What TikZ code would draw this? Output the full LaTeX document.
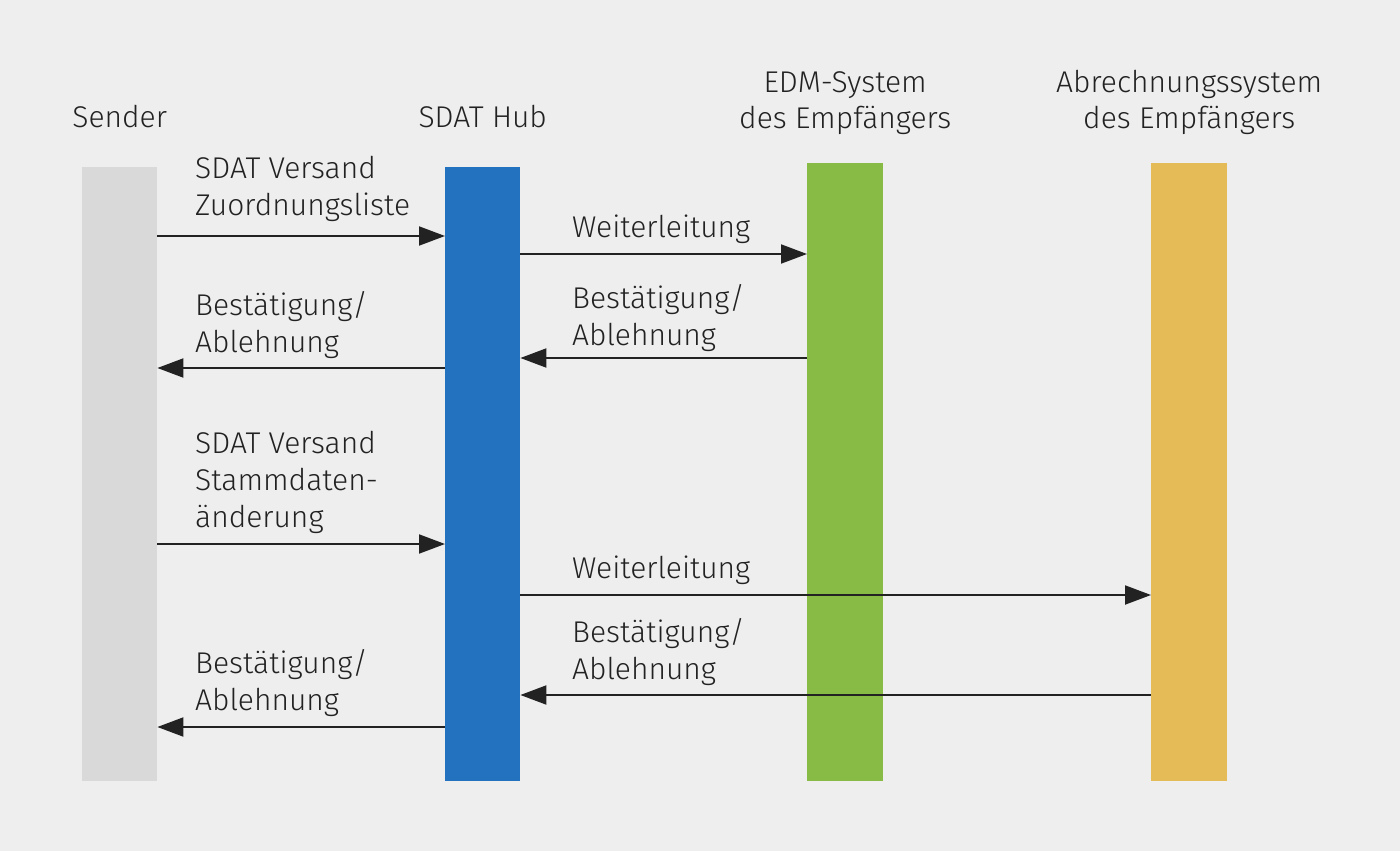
\documentclass[tikz,border=0pt]{standalone}
\usepackage{fontspec}
\setmainfont{Fira Sans}[UprightFont=* Light]
\usepackage{xcolor}
\usetikzlibrary{arrows.meta,positioning}
\definecolor{bg}{HTML}{EEEEEE}
\definecolor{ink}{HTML}{222222}
\definecolor{grey}{HTML}{D9D9D9}
\definecolor{hub}{HTML}{2372BF}
\definecolor{edm}{HTML}{88BB45}
\definecolor{abr}{HTML}{E5BB58}
\tikzset{
  bar/.style={draw=none, inner sep=0pt, minimum width=75pt, anchor=north west},
  msg/.style={draw=ink, line width=2pt, -{Triangle[length=26pt, width=19pt]}},
  lab/.style={text=ink, inner sep=0pt, align=left, anchor=south west, font=\fontsize{30}{37}\selectfont},
  head/.style={text=ink, inner sep=0pt, align=center, anchor=south, font=\fontsize{30}{36}\selectfont},
}
\begin{document}
\begin{tikzpicture}[x=1pt, y=-1pt]
  \fill[bg] (0,0) rectangle (1400,851);
  \useasboundingbox (0,0) rectangle (1400,851);
  % lifelines
  \node[bar, fill=grey, minimum height=614pt] (sender) at (82,167) {};
  \node[bar, fill=hub, minimum height=614pt] (sdat) at (445,167) {};
  \node[bar, fill=edm, minimum height=618pt, minimum width=76pt] (edm) at (807,163) {};
  \node[bar, fill=abr, minimum height=618pt, minimum width=76pt] (abr) at (1151,163) {};
  % headers
  \node[head] (hSender) at (sender.north |- 0,128) {Sender};
  \node[head] (hSdat) at (sdat.north |- 0,128) {SDAT Hub};
  \node[head] (hEdm) at (edm.north |- 0,135) {EDM-System\\des Empfängers};
  \node[head] (hAbr) at (abr.north |- 0,135) {Abrechnungssystem\\des Empfängers};
  % first exchange
  \draw[msg] (sender.east |- 0,236) -- (sdat.west |- 0,236);
  \node[lab] (l1) at (195,222) {SDAT Versand\\Zuordnungsliste};
  \draw[msg] (sdat.east |- 0,254) -- (edm.west |- 0,254);
  \node[lab] (l2) at (572,244) {Weiterleitung};
  \draw[msg] (edm.west |- 0,358) -- (sdat.east |- 0,358);
  \node[lab] (l3) at (572,352) {Bestätigung/\\Ablehnung};
  \draw[msg] (sdat.west |- 0,368) -- (sender.east |- 0,368);
  \node[lab] (l4) at (195,359) {Bestätigung/\\Ablehnung};
  % second exchange
  \draw[msg] (sender.east |- 0,544) -- (sdat.west |- 0,544);
  \node[lab] (l5) at (195,534) {SDAT Versand\\Stammdaten-\\änderung};
  \draw[msg] (sdat.east |- 0,595) -- (abr.west |- 0,595);
  \node[lab] (l6) at (572,585) {Weiterleitung};
  \draw[msg] (abr.west |- 0,695) -- (sdat.east |- 0,695);
  \node[lab] (l7) at (572,686) {Bestätigung/\\Ablehnung};
  \draw[msg] (sdat.west |- 0,727) -- (sender.east |- 0,727);
  \node[lab] (l8) at (195,717) {Bestätigung/\\Ablehnung};
\end{tikzpicture}
\end{document}
